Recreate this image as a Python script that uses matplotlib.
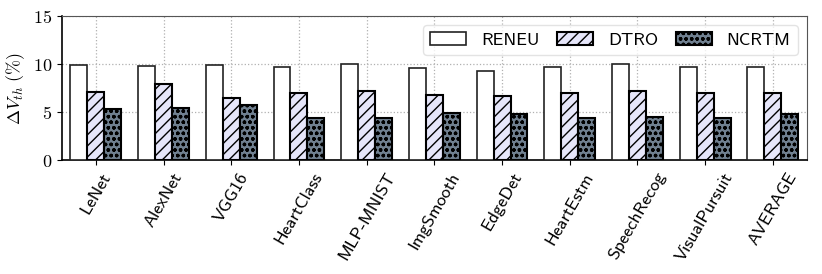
import numpy as np
import matplotlib
matplotlib.use('Agg')
import matplotlib.pyplot as plt

# benchmark names and threshold shift per method
benchmarks = ['LeNet', 'AlexNet', 'VGG16', 'HeartClass', 'MLP-MNIST', 'ImgSmooth',
              'EdgeDet', 'HeartEstm', 'SpeechRecog', 'VisualPursuit', 'AVERAGE']
reneu = [9.9, 9.8, 9.9, 9.7, 10.0, 9.6, 9.3, 9.7, 10.0, 9.7, 9.7]
dtro = [7.1, 7.9, 6.5, 7.0, 7.2, 6.8, 6.7, 7.0, 7.2, 7.0, 7.0]
ncrtm = [5.3, 5.4, 5.7, 4.4, 4.4, 4.9, 4.8, 4.4, 4.5, 4.4, 4.8]
yticks = [0, 5, 10, 15]

plt.rcParams['mathtext.fontset'] = 'cm'
plt.rcParams['axes.formatter.use_mathtext'] = True
plt.rcParams['hatch.linewidth'] = 1.0

fig = plt.figure(figsize=(8.22, 2.74), dpi=100)
ax = fig.add_axes([0.0754, 0.416, 0.906, 0.526])

x = np.arange(len(benchmarks))
w = 0.25
ax.bar(x - w, reneu, w, color='white', edgecolor='#222222', linewidth=1.2,
       label='RENEU', zorder=3)
ax.bar(x, dtro, w, color='#e6e6fa', edgecolor='black', linewidth=1.5,
       hatch='///', label='DTRO', zorder=3)
ax.bar(x + w, ncrtm, w, color='#708090', edgecolor='black', linewidth=1.5,
       hatch='ooo', label='NCRTM', zorder=3)

ax.set_xlim(-0.5, len(benchmarks) - 0.5)
ax.set_ylim(0, 15)
ax.set_yticks(yticks)
ax.set_yticklabels(['$%d$' % t for t in yticks], fontsize=13)
ax.set_xticks(x)
ax.set_xticklabels(benchmarks, rotation=60, ha='center',
                   fontfamily='cmss10', fontsize=13)
ax.set_ylabel(r'$\Delta V_{th}\ (\%)$', fontsize=13)
ax.grid(True, linestyle=':', color='#b0b0b0', linewidth=0.9, zorder=0)
for s in ['top', 'right']:
    ax.spines[s].set_color('#555555')
ax.spines['left'].set_linewidth(1.2)
ax.spines['bottom'].set_linewidth(1.2)

leg = ax.legend(loc='upper right', ncol=3, prop={'family': 'cmss10', 'size': 13},
                frameon=True, fancybox=True, framealpha=0.8, handlelength=2.0,
                handletextpad=0.8, columnspacing=1.0, borderaxespad=0.5)
leg.get_frame().set_edgecolor('#dddddd')

fig.savefig('out.png', dpi=100)
